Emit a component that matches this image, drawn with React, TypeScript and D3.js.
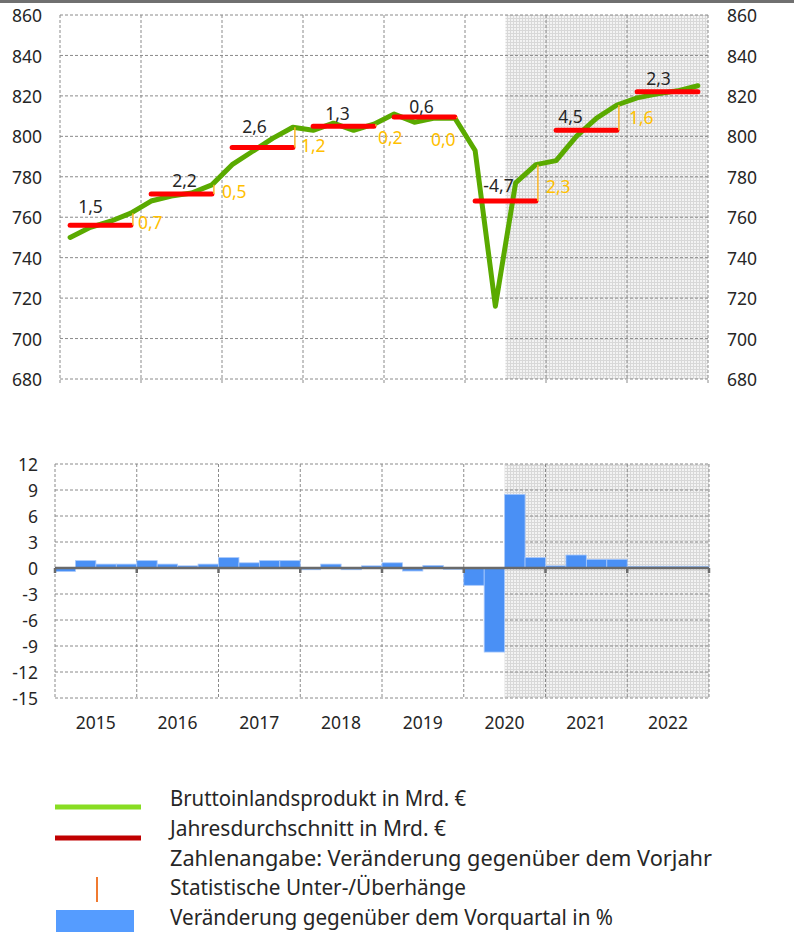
import React from 'react'
import * as d3 from 'd3'

// quarterly data 2015Q1 .. 2022Q4
const years = ['2015', '2016', '2017', '2018', '2019', '2020', '2021', '2022']
const gdp = [
    750, 755, 758, 762,
    768, 770.5, 772, 776,
    786, 792.5, 799, 804.5,
    803, 806.5, 803, 806,
    811, 807, 809, 809,
    793, 716, 777, 786,
    788, 800, 809, 815.5,
    819, 821, 822.5, 825,
]
const annualAvg = [756, 771.5, 794.5, 805, 809.5, 768, 803, 822]
const yoyLabels = ['1,5', '2,2', '2,6', '1,3', '0,6', '-4,7', '4,5', '2,3']
const overhangLabels = ['0,7', '0,5', '1,2', '0,2', '0,0', '2,3', '1,6']
const qoq = [
    -0.4, 0.85, 0.45, 0.45,
    0.85, 0.45, 0.25, 0.45,
    1.2, 0.6, 0.85, 0.85,
    -0.2, 0.45, -0.2, 0.25,
    0.6, -0.35, 0.3, -0.15,
    -2.0, -9.7, 8.5, 1.2,
    0.25, 1.5, 1.0, 1.0,
    0.2, 0.2, 0.2, 0.2,
]
const topTicks = [680, 700, 720, 740, 760, 780, 800, 820, 840, 860]
const bottomTicks = [-15, -12, -9, -6, -3, 0, 3, 6, 9, 12]
const forecastStart = 22
const legendItems = [
    'Bruttoinlandsprodukt in Mrd. €',
    'Jahresdurchschnitt in Mrd. €',
    'Zahlenangabe: Veränderung gegenüber dem Vorjahr',
    'Statistische Unter-/Überhänge',
    'Veränderung gegenüber dem Vorquartal in %',
]

// label nudges (layout only)
const yoyNudge = [[-10, -12], [3, -7], [-8, -14], [-6, -6], [-3, -4], [-7, -9], [-16, -7], [-9, -7]]
const overNudge = [[5, -2], [8, -2], [6, -2], [2, 12], [-26, 23], [8, -14], [10, -12]]
const legendWidths = [296, 276, 542, 296, 443]

const quarters = gdp.map((d, i) => i)
const font = '"Noto Sans", "Open Sans", sans-serif'
const gridColor = '#8a8a8a'
const fs = 17.5

export default function App() {
    const xTop = d3.scaleBand<number>().domain(quarters).range([60, 708]).padding(0)
    const yTop = d3.scaleLinear().domain([680, 860]).range([379, 15])
    const xBot = d3.scaleBand<number>().domain(quarters).range([55, 709]).padding(0)
    const yBot = d3.scaleLinear().domain([-15, 12]).range([698, 464])

    const qTop = (i: number) => (xTop(i) as number) + xTop.bandwidth() / 2
    const line = d3.line<number>()
        .x((d, i) => qTop(i))
        .y((d) => yTop(d))

    const yearEdgesTop = d3.range(0, 33, 4).map((i) =>
        i < 32 ? (xTop(i) as number) : 708)
    const yearEdgesBot = d3.range(0, 33, 4).map((i) =>
        i < 32 ? (xBot(i) as number) : 709)

    const shadeTop = xTop(forecastStart) as number
    const shadeBot = xBot(forecastStart) as number

    return (
        <svg width={794} height={934} style={{ position: 'absolute', left: 0, top: 0 }}
            fontFamily={font}>
            <defs>
                <pattern id="hatch" width={3} height={3} patternUnits="userSpaceOnUse">
                    <rect width={3} height={3} fill="#f3f3f3" />
                    <path d="M0 0.5H3M0.5 0V3" stroke="#d8d8d8" strokeWidth={1} />
                </pattern>
            </defs>
            <rect x={0} y={0} width={794} height={3} fill="#707070" />

            {/* ---------- top chart ---------- */}
            <rect x={shadeTop} y={15} width={708 - shadeTop} height={364} fill="url(#hatch)" />
            {topTicks.map((t) => (
                <line key={t} x1={60} x2={708} y1={yTop(t)} y2={yTop(t)}
                    stroke={gridColor} strokeDasharray="3,2" />
            ))}
            {yearEdgesTop.map((x, i) => (
                <line key={i} x1={x} x2={x} y1={15} y2={385}
                    stroke={gridColor} strokeDasharray="3,2" />
            ))}
            {topTicks.map((t) => (
                <g key={t} fontSize={fs} fill="#262626">
                    <text x={42} y={yTop(t) + 1} dy="0.35em" textAnchor="end">{t}</text>
                    <text x={727} y={yTop(t) + 1} dy="0.35em">{t}</text>
                </g>
            ))}

            <path d={line(gdp) || ''} fill="none" stroke="#5aaa00" strokeWidth={5}
                strokeLinejoin="round" strokeLinecap="round" />

            {annualAvg.map((a, k) => {
                const x1 = qTop(k * 4)
                const x2 = qTop(k * 4 + 3)
                const cx = (x1 + x2) / 2
                return (
                    <g key={k}>
                        <line x1={x1} x2={x2} y1={yTop(a)} y2={yTop(a)}
                            stroke="#ff0000" strokeWidth={5} strokeLinecap="round" />
                        <text x={cx + yoyNudge[k][0]} y={yTop(a) + yoyNudge[k][1]}
                            textAnchor="middle" fontSize={fs} fill="#262626">{yoyLabels[k]}</text>
                    </g>
                )
            })}

            {overhangLabels.map((lab, k) => {
                const tx = qTop(k * 4 + 3) + 2
                const ya = yTop(annualAvg[k])
                const yq = yTop(gdp[k * 4 + 3])
                return (
                    <g key={k}>
                        <line x1={tx} x2={tx} y1={ya} y2={yq} stroke="#fbb52a" strokeWidth={1.5} />
                        <text x={tx + overNudge[k][0]} y={ya + overNudge[k][1]} dy="0.35em"
                            fontSize={fs} fill="#ffc000">{lab}</text>
                    </g>
                )
            })}

            {/* ---------- bottom chart ---------- */}
            <rect x={shadeBot} y={464} width={709 - shadeBot} height={234} fill="url(#hatch)" />
            {bottomTicks.map((t) => (
                <line key={t} x1={55} x2={709} y1={yBot(t)} y2={yBot(t)}
                    stroke={gridColor} strokeDasharray="3,2" />
            ))}
            {yearEdgesBot.map((x, i) => (
                <line key={i} x1={x} x2={x} y1={464} y2={698}
                    stroke={gridColor} strokeDasharray="3,2" />
            ))}
            {bottomTicks.map((t) => (
                <text key={t} x={38} y={yBot(t) + 1} dy="0.35em" textAnchor="end"
                    fontSize={fs} fill="#262626">{t}</text>
            ))}
            {qoq.map((v, i) => (
                <rect key={i} x={xBot(i)} width={xBot.bandwidth()}
                    y={yBot(Math.max(0, v))} height={Math.abs(yBot(v) - yBot(0))}
                    fill="#4a90f5" stroke="#a9c9fb" strokeWidth={0.8} />
            ))}
            <line x1={55} x2={709} y1={yBot(0)} y2={yBot(0)} stroke="#6a6a6a" strokeWidth={2.5} />
            {yearEdgesBot.map((x, i) => (
                <line key={i} x1={x} x2={x} y1={yBot(0)} y2={yBot(0) + 5}
                    stroke="#6a6a6a" strokeWidth={2.5} />
            ))}
            {years.map((yr, k) => (
                <text key={yr} x={(yearEdgesBot[k] + yearEdgesBot[k + 1]) / 2} y={729}
                    textAnchor="middle" fontSize={fs} fill="#262626">{yr}</text>
            ))}

            {/* ---------- legend ---------- */}
            <line x1={55} x2={141} y1={807} y2={807} stroke="#88dd22" strokeWidth={5} />
            <line x1={55} x2={141} y1={838} y2={838} stroke="#c00000" strokeWidth={5} />
            <line x1={97} x2={97} y1={877} y2={902} stroke="#f07a30" strokeWidth={2} />
            <rect x={56} y={910} width={78} height={22} fill="#559cff" />
            {legendItems.map((t, i) => (
                <text key={i} x={170} y={806 + i * 29.8} fontSize={21} fill="#262626"
                    textLength={legendWidths[i]} lengthAdjust="spacingAndGlyphs">{t}</text>
            ))}
        </svg>
    )
}
